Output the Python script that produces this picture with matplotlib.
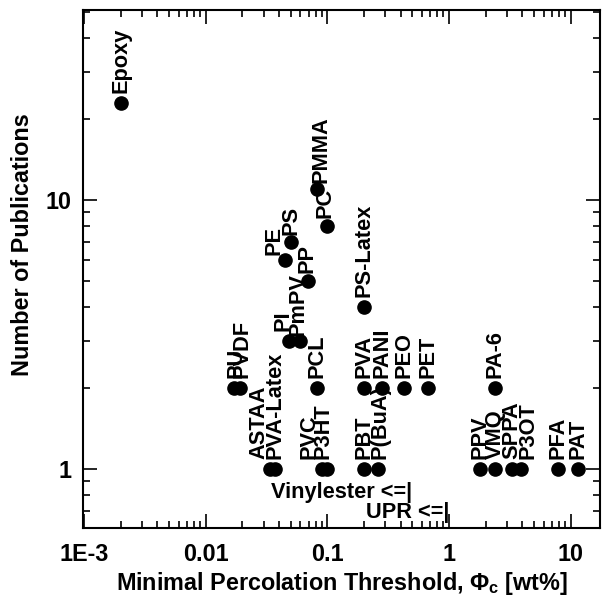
import matplotlib
matplotlib.use("Agg")
import matplotlib.pyplot as plt
import matplotlib.transforms as mtransforms
from matplotlib.ticker import FixedLocator, FixedFormatter, LogLocator, NullFormatter

plt.rcParams['font.family'] = ['Liberation Sans', 'DejaVu Sans']
plt.rcParams['font.weight'] = 'bold'
plt.rcParams['mathtext.fontset'] = 'custom'
plt.rcParams['mathtext.rm'] = 'Liberation Sans:bold'
plt.rcParams['mathtext.it'] = 'Liberation Sans:bold'
plt.rcParams['mathtext.bf'] = 'Liberation Sans:bold'

# ---- data ----
materials = ["Epoxy", "PU", "PVDF", "ASTAA", "PVA-Latex", "PI", "PmPV", "PE", "PS", "PP",
             "PMMA", "PC", "PCL", "PVC", "P3HT", "PBT", "P(BuA)", "PVA", "PS-Latex", "PANI",
             "PEO", "PET", "PPV", "VMQ", "PA-6", "SPPA", "P3OT", "PFA", "PAT"]
threshold = [0.002, 0.017, 0.019, 0.034, 0.037, 0.048, 0.059, 0.045, 0.05, 0.069,
             0.082, 0.099, 0.082, 0.09, 0.1, 0.2, 0.26, 0.2, 0.2, 0.28,
             0.43, 0.67, 1.8, 2.4, 2.4, 3.3, 3.9, 7.8, 11.5]
publications = [23, 2, 2, 1, 1, 3, 3, 6, 7, 5,
                11, 8, 2, 1, 1, 1, 1, 2, 4, 2,
                2, 2, 1, 1, 2, 1, 1, 1, 1]

bound_names = ["Vinylester", "UPR"]
bound_values = [0.5, 1.0]

x_ticks = [1e-3, 1e-2, 1e-1, 1, 10]
x_ticklabels = ["1E-3", "0.01", "0.1", "1", "10"]
y_ticks = [1, 10]
y_ticklabels = ["1", "10"]

# ---- layout (pixel offsets for labels: dx, gap above point) ----
label_offsets = {"ASTAA": (-11, 10), "PI": (-6, 10), "PE": (-11, 5), "PS": (0, 7),
                 "PP": (-1, 8), "PC": (-2, 8), "PMMA": (4, 6), "PVC": (-13, 10),
                 "P3HT": (-4, 10), "P3OT": (7, 10), "PmPV": (-2, 5), "P(BuA)": (2, 10),
                 "PU": (2, 10), "PVDF": (2, 10)}
bound_levels = [0.82, 0.69]

FS = 15.7      # point labels
FS_AX = 16.8   # tick labels and axis titles
fig = plt.figure(figsize=(6.02, 5.98), dpi=100)
ax = fig.add_axes([83 / 602, 70 / 598, 517 / 602, 518 / 598])
ax.set_xscale('log')
ax.set_yscale('log')
ax.set_xlim(0.00098, 17.4)
ax.set_ylim(0.603, 50.9)

ax.plot(threshold, publications, 'o', color='black', ms=9.5, zorder=3, clip_on=False)

for name, x, y in zip(materials, threshold, publications):
    dx, gap = label_offsets.get(name, (0, 10))
    tr = mtransforms.offset_copy(ax.transData, fig=fig, x=dx, y=gap, units='dots')
    ax.text(x, y, name, transform=tr, rotation=90, ha='center', va='bottom',
            fontsize=FS, fontweight='bold', zorder=2)

for name, xv, lv in zip(bound_names, bound_values, bound_levels):
    ax.text(xv, lv, name + " <=|", ha='right', va='center', fontsize=FS, fontweight='bold')

ax.xaxis.set_major_locator(FixedLocator(x_ticks))
ax.xaxis.set_major_formatter(FixedFormatter(x_ticklabels))
ax.xaxis.set_minor_locator(LogLocator(base=10, subs=range(2, 10), numticks=20))
ax.xaxis.set_minor_formatter(NullFormatter())
ax.yaxis.set_major_locator(FixedLocator(y_ticks))
ax.yaxis.set_major_formatter(FixedFormatter(y_ticklabels))
ax.yaxis.set_minor_locator(LogLocator(base=10, subs=range(2, 10), numticks=20))
ax.yaxis.set_minor_formatter(NullFormatter())

ax.tick_params(which='both', direction='in', top=True, right=True, width=1.2, labelsize=FS_AX)
ax.tick_params(which='major', length=10)
ax.tick_params(which='minor', length=5)
ax.tick_params(axis='x', which='major', pad=11)
ax.tick_params(axis='y', which='major', pad=8)
for s in ax.spines.values():
    s.set_linewidth(1.5)

ax.set_xlabel(r"Minimal Percolation Threshold, $\Phi_c$ [wt%]", fontsize=FS_AX, fontweight='bold', labelpad=3)
ax.set_ylabel("Number of Publications", fontsize=FS_AX, fontweight='bold')
ax.yaxis.set_label_coords(-0.095, 0.548)

fig.savefig("out.png", dpi=100)
